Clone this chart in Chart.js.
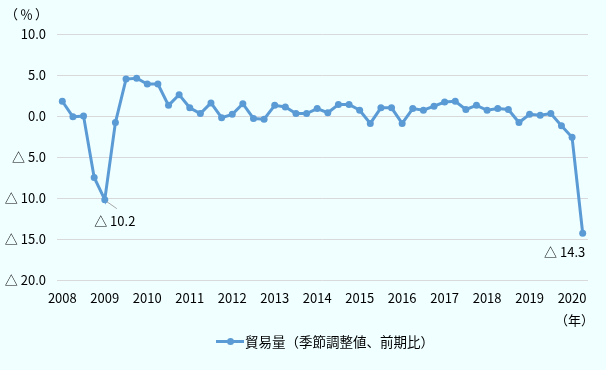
<!DOCTYPE html>
<html lang="ja">
<head>
<meta charset="utf-8">
<script src="https://cdn.jsdelivr.net/npm/chart.js@4/dist/chart.umd.min.js"></script>
<style>
  html,body{margin:0;padding:0;background:#f0ffff;}
  #wrap{position:relative;width:606px;height:370px;background:#f0ffff;font-family:"Noto Sans CJK JP",sans-serif;color:#000;}
  #chart{position:absolute;left:0;top:0;}
  .unit{position:absolute;font-size:13px;line-height:14px;white-space:nowrap;}
  #legend{position:absolute;left:216px;top:333px;font-size:13.5px;line-height:16px;white-space:nowrap;display:flex;align-items:center;}
  #legend .key{position:relative;display:inline-block;width:28px;height:3px;background:#5b9bd5;margin-right:1px;}
  #legend .key:after{content:"";position:absolute;left:11px;top:-2px;width:7px;height:7px;border-radius:50%;background:#5b9bd5;}
</style>
</head>
<body>
<div id="wrap">
  <canvas id="chart" width="606" height="370"></canvas>
  <div class="unit" style="left:5px;top:7px;letter-spacing:2px;">（％）</div>
  <div class="unit" style="left:555px;top:313px;">（年）</div>
  <div id="legend"><span class="key"></span><span id="legend-text"></span></div>
</div>
<script>
// 貿易量（季節調整値、前期比）, quarterly 2008Q1 - 2020Q2
var years = ["2008","2009","2010","2011","2012","2013","2014","2015","2016","2017","2018","2019","2020"];
var quarters = [];
years.forEach(function(y){ ["Q1","Q2","Q3","Q4"].forEach(function(q){ quarters.push(y+q); }); });
quarters = quarters.slice(0, 50);   // series ends at 2020Q2

var seriesName = "貿易量（季節調整値、前期比）";
var tradeVolume = [
  1.8, -0.1, 0.0, -7.5,
  -10.2, -0.8, 4.5, 4.6,
  3.9, 3.9, 1.3, 2.6,
  1.0, 0.3, 1.6, -0.2,
  0.2, 1.5, -0.3, -0.4,
  1.3, 1.1, 0.3, 0.3,
  0.9, 0.4, 1.4, 1.4,
  0.7, -0.9, 1.0, 1.0,
  -0.9, 0.9, 0.7, 1.2,
  1.7, 1.8, 0.8, 1.3,
  0.7, 0.9, 0.8, -0.8,
  0.2, 0.1, 0.3, -1.2,
  -2.6, -14.3
];
var yTicks = [10, 5, 0, -5, -10, -15, -20];
// labelled points: index into tradeVolume + text
var callouts = [
  {index: 4, text: "△ 10.2"},
  {index: 49, text: "△ 14.3"}
];

var BLUE = "#5b9bd5";
var FONT = "'Noto Sans CJK JP', sans-serif";
document.getElementById("legend-text").textContent = seriesName;

function tri(v){ return v < 0 ? "△ " + Math.abs(v).toFixed(1) : v.toFixed(1); }

// text offsets (px) of each callout from its point, and whether a leader line is drawn
var calloutPlace = {4: {dx: 10, dy: 21, leader: true}, 49: {dx: -18, dy: 19, leader: false}};

var calloutPlugin = {
  id: "callouts",
  afterDatasetsDraw: function(chart){
    var ctx = chart.ctx, meta = chart.getDatasetMeta(0);
    ctx.save();
    callouts.forEach(function(c){
      var p = meta.data[c.index], pl = calloutPlace[c.index];
      if (!p || !pl) return;
      if (pl.leader) {
        ctx.strokeStyle = "#a6a6a6"; ctx.lineWidth = 1;
        ctx.beginPath(); ctx.moveTo(p.x + 2, p.y + 2); ctx.lineTo(p.x + 12, p.y + 9); ctx.stroke();
      }
      ctx.fillStyle = "#000"; ctx.font = "13px " + FONT;
      ctx.textAlign = "center"; ctx.textBaseline = "middle";
      ctx.fillText(c.text, p.x + pl.dx, p.y + pl.dy);
    });
    ctx.restore();
  }
};

new Chart(document.getElementById("chart"), {
  type: "line",
  data: {
    labels: quarters,
    datasets: [{
      label: seriesName,
      data: tradeVolume,
      borderColor: BLUE, backgroundColor: BLUE,
      borderWidth: 3, pointRadius: 3.5, pointHoverRadius: 3.5,
      pointBackgroundColor: BLUE, pointBorderColor: BLUE, pointBorderWidth: 0,
      tension: 0
    }]
  },
  options: {
    responsive: false, animation: false,
    layout: {padding: {top: 34, right: 18, left: 0, bottom: 0}},
    plugins: {legend: {display: false}, tooltip: {enabled: false}},
    scales: {
      x: {
        offset: true,
        grid: {display: false}, border: {display: false},
        ticks: {
          autoSkip: false, maxRotation: 0, padding: 2, color: "#000",
          font: {family: FONT, size: 13},
          callback: function(v){ var q = this.getLabelForValue(v); return q.slice(4) === "Q1" ? q.slice(0, 4) : ""; }
        },
        afterFit: function(s){ s.height = 90; }
      },
      y: {
        min: -20, max: 10,
        afterBuildTicks: function(s){ s.ticks = yTicks.map(function(v){ return {value: v}; }); },
        grid: {color: "#d9d9d9", drawTicks: false, lineWidth: 1},
        border: {display: false},
        ticks: {padding: 11, color: "#000", font: {family: FONT, size: 13}, callback: tri},
        afterFit: function(s){ s.width = 57; }
      }
    }
  },
  plugins: [calloutPlugin]
});
</script>
</body>
</html>
